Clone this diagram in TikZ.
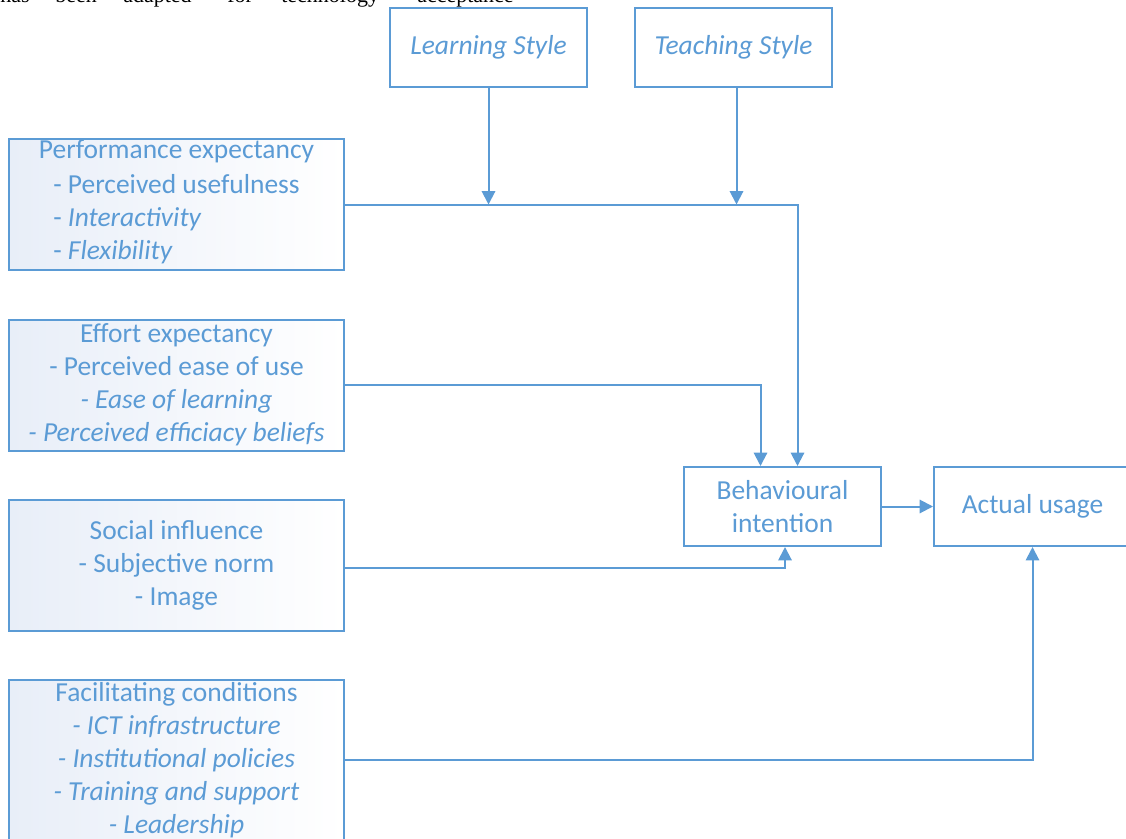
\documentclass[tikz,border=0pt]{standalone}
\usepackage{fontspec}
\setmainfont{Carlito}
\newfontfamily\timesf{Liberation Serif}
\usetikzlibrary{arrows.meta,calc}
\definecolor{ofblue}{RGB}{91,155,213}
\definecolor{boxfill}{RGB}{232,238,248}
\begin{document}
\begin{tikzpicture}[x=0.75pt,y=-0.75pt,
  font=\fontsize{20.6}{24.75}\selectfont,
  every node/.style={text=ofblue},
  sbox/.style={draw=ofblue,line width=1.5pt,align=center,inner sep=0pt,fill=white},
  gbox/.style={sbox,left color=boxfill,right color=white,minimum width=251.25pt},
  smallbox/.style={sbox,minimum width=147.75pt,minimum height=59.25pt},
  arr/.style={draw=ofblue,line width=1.5pt,-{Triangle[width=10pt,length=10pt]}},
  topword/.style={text=black,anchor=base west,inner sep=0pt,font=\timesf\fontsize{16.5}{18}\selectfont}]
\useasboundingbox (0,0) rectangle (1126,838);
\clip (0,0) rectangle (1126,838);

% clipped line of text above the figure
\node[topword] (w1) at (0,3) {has};
\node[topword] (w2) at (55,3) {been};
\node[topword] (w3) at (123,3) {adapted};
\node[topword] (w4) at (227,3) {for};
\node[topword] (w5) at (281,3) {technology};
\node[topword] (w6) at (417,3) {acceptance};

% boxes
\node[smallbox] (LS) at (488.5,47.5) {\itshape Learning Style};
\node[smallbox] (TS) at (733.5,47.5) {\itshape Teaching Style};

\node[gbox,minimum height=98.25pt] (PE) at (176.5,204.5)
  {Performance expectancy\\[4pt]\begin{tabular}{@{}l@{}}- Perceived usefulness\\- \textit{Interactivity}\\- \textit{Flexibility}\end{tabular}};
\node[gbox,minimum height=98.25pt] (EE) at (176.5,385)
  {Effort expectancy\\- Perceived ease of use\\\textit{- Ease of learning}\\\textit{- Perceived efficiacy beliefs}};
\node[gbox,minimum height=98.25pt] (SI) at (176.5,565)
  {Social influence\\- Subjective norm\\- Image};
\node[gbox,minimum height=120pt] (FC) at (176.5,760)
  {Facilitating conditions\\\textit{- ICT infrastructure}\\\textit{- Institutional policies}\\\textit{- Training and support}\\\textit{- Leadership}};

\node[smallbox] (BI) at (782.5,506.5) {Behavioural\\intention};
\node[smallbox] (AU) at (1032.5,506.5) {Actual usage};

% connectors
\draw[arr] (LS.south) -- (LS.south |- PE.east);
\draw[arr] ($(TS.south)+(3,0)$) -- ($(TS.south |- PE.east)+(3,0)$);
\draw[arr] (PE.east) -| ($(BI.north)+(15,0)$);
\draw[arr] (EE.east) -| ($(BI.north)+(-22,0)$);
\draw[arr] ($(SI.east)+(0,3)$) -| ($(BI.south)+(2.5,0)$);
\draw[arr] (BI.east) -- (AU.west);
\draw[arr] (FC.east) -| (AU.south);
\end{tikzpicture}
\end{document}
